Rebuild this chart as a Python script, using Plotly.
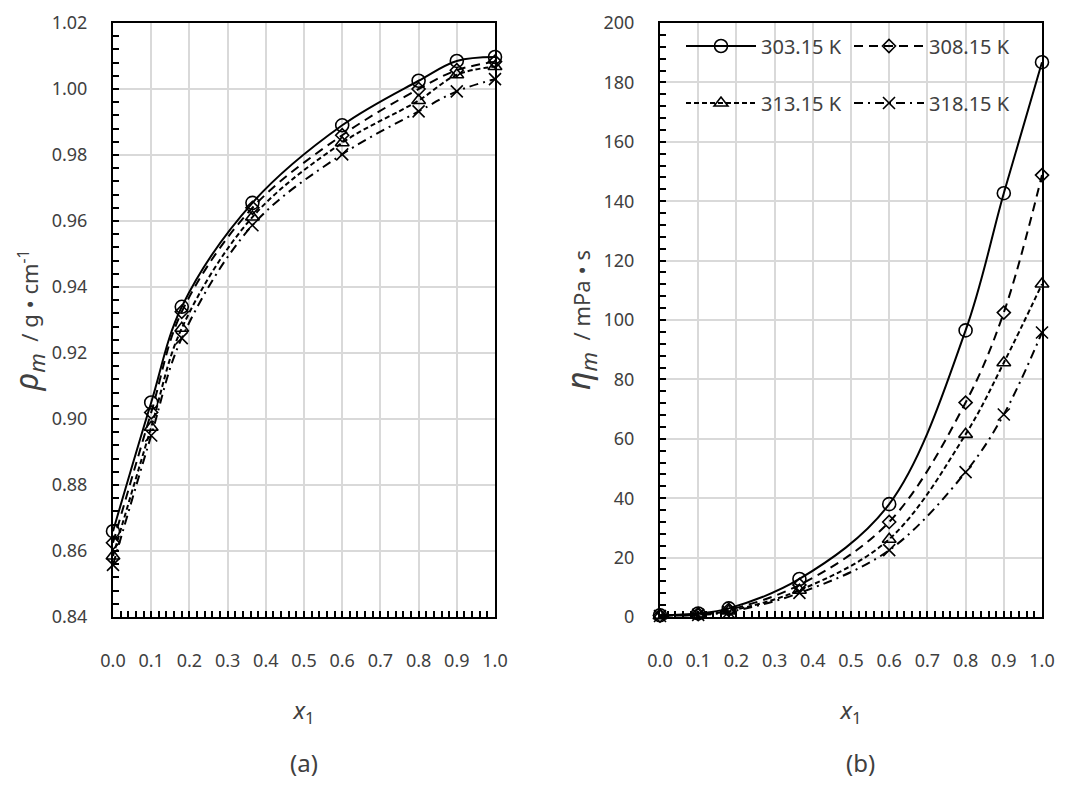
import plotly.graph_objects as go

# ---------------- data ----------------
x1 = [0.0, 0.1, 0.18, 0.365, 0.6, 0.8, 0.9, 1.0]

temps = ["303.15 K", "308.15 K", "313.15 K", "318.15 K"]

rho_30315 = [0.866, 0.905, 0.934, 0.9655, 0.989, 1.0025, 1.0085, 1.0097]
rho_30815 = [0.8625, 0.902, 0.9325, 0.964, 0.986, 1.0000, 1.0057, 1.0083]
rho_31315 = [0.8585, 0.8975, 0.9275, 0.9612, 0.9837, 0.9965, 1.0043, 1.0068]
rho_31815 = [0.8558, 0.8950, 0.9245, 0.9587, 0.9802, 0.9932, 0.9993, 1.0030]

eta_30315 = [0.6, 1.2, 2.9, 12.8, 38.0, 96.5, 142.7, 186.8]
eta_30815 = [0.5, 1.0, 2.4, 10.8, 32.0, 72.2, 102.5, 148.8]
eta_31315 = [0.4, 0.8, 2.0, 9.0, 26.2, 61.5, 85.6, 112.1]
eta_31815 = [0.35, 0.7, 1.7, 8.1, 22.5, 48.8, 68.2, 95.8]

rho_series = [rho_30315, rho_30815, rho_31315, rho_31815]
eta_series = [eta_30315, eta_30815, eta_31315, eta_31815]

# ---------------- styles ----------------
dashes = ["solid", "9px,6px", "5px,3px", "9px,5px,2px,5px"]
symbols = ["circle-open", "diamond-open", "triangle-up-open", "x-thin-open"]
msizes = [13, 10, 12, 12]
legends = ["legend", "legend", "legend2", "legend2"]

FONT = "Noto Sans"
TXT = "#404040"

fig = go.Figure()

for i in range(4):
    fig.add_trace(go.Scatter(
        x=x1, y=rho_series[i], mode="lines+markers", name=temps[i],
        line=dict(color="black", width=2, dash=dashes[i], shape="spline", smoothing=1.0),
        marker=dict(symbol=symbols[i], size=msizes[i], color="black",
                    line=dict(color="black", width=1.6)),
        cliponaxis=False, showlegend=False, xaxis="x", yaxis="y"))

for i in range(4):
    fig.add_trace(go.Scatter(
        x=x1, y=eta_series[i], mode="lines+markers", name=temps[i],
        line=dict(color="black", width=2, dash=dashes[i], shape="spline", smoothing=1.0),
        marker=dict(symbol=symbols[i], size=msizes[i], color="black",
                    line=dict(color="black", width=1.6)),
        cliponaxis=False, showlegend=True, legend=legends[i],
        xaxis="x2", yaxis="y2"))

common_axis = dict(
    showline=True, linecolor="black", linewidth=2, mirror=True,
    showgrid=True, gridcolor="#d9d9d9", gridwidth=1.5,
    zeroline=False, ticks="inside", ticklen=6, tickwidth=1.5, tickcolor="black",
    tickfont=dict(family=FONT, size=18, color=TXT), automargin=False,
)

xdom_a = [113 / 1081, 495 / 1081]
xdom_b = [660 / 1081, 1042 / 1081]
ydom = [1 - 617 / 785, 1 - 23 / 785]

xtitle = dict(text="<i>x</i><sub>1</sub>", font=dict(family=FONT, size=24, color=TXT), standoff=32)

legend_common = dict(orientation="h", xanchor="left", yanchor="middle",
                     bgcolor="rgba(0,0,0,0)", font=dict(family=FONT, size=20, color=TXT),
                     entrywidth=83, entrywidthmode="pixels", itemwidth=70, tracegroupgap=0)

rho_title = ('<span style="font-size:32px"><i>ρ</i><sub><i>m</i></sub></span>'
             '<span style="font-size:22px">  / g • cm</span>'
             '<span style="font-size:22px"><sup>-1</sup></span>')
eta_title = ('<span style="font-size:32px"><i>η</i><sub><i>m</i></sub></span>'
             '<span style="font-size:22px">  / mPa • s</span>')

fig.update_layout(
    width=1081, height=785,
    margin=dict(l=0, r=0, t=0, b=0, autoexpand=False),
    paper_bgcolor="white", plot_bgcolor="white",
    font=dict(family=FONT, color=TXT),
    xaxis=dict(domain=xdom_a, anchor="y", range=[0, 1], dtick=0.1, tickformat=".1f",
               ticklabelstandoff=26, title=xtitle,
               minor=dict(ticks="inside", dtick=0.02, ticklen=6, tickwidth=1.5, tickcolor="black", showgrid=False),
               **common_axis),
    yaxis=dict(domain=ydom, anchor="x", range=[0.84, 1.02], dtick=0.02, tickformat=".2f",
               ticklabelstandoff=20,
               title=dict(text=rho_title, font=dict(family=FONT, size=22, color=TXT), standoff=2),
               minor=dict(ticks="inside", dtick=0.004, ticklen=6, tickwidth=1.5, tickcolor="black", showgrid=False),
               **common_axis),
    xaxis2=dict(domain=xdom_b, anchor="y2", range=[0, 1], dtick=0.1, tickformat=".1f",
                ticklabelstandoff=26, title=xtitle,
                minor=dict(ticks="inside", dtick=0.02, ticklen=6, tickwidth=1.5, tickcolor="black", showgrid=False),
                **common_axis),
    yaxis2=dict(domain=ydom, anchor="x2", range=[0, 200], dtick=20,
                ticklabelstandoff=20,
                title=dict(text=eta_title, font=dict(family=FONT, size=22, color=TXT), standoff=2),
                minor=dict(ticks="inside", dtick=4, ticklen=6, tickwidth=1.5, tickcolor="black", showgrid=False),
                **common_axis),
    legend=dict(x=681 / 1081, y=1 - 46 / 785, **legend_common),
    legend2=dict(x=681 / 1081, y=1 - 103 / 785, **legend_common),
    annotations=[
        dict(text="(a)", x=304 / 1081, y=1 - 762 / 785, xref="paper", yref="paper",
             xanchor="center", yanchor="middle",
             showarrow=False, font=dict(family=FONT, size=24, color=TXT)),
        dict(text="(b)", x=860 / 1081, y=1 - 762 / 785, xref="paper", yref="paper",
             xanchor="center", yanchor="middle",
             showarrow=False, font=dict(family=FONT, size=24, color=TXT)),
    ],
)

fig.write_html("out.html")
